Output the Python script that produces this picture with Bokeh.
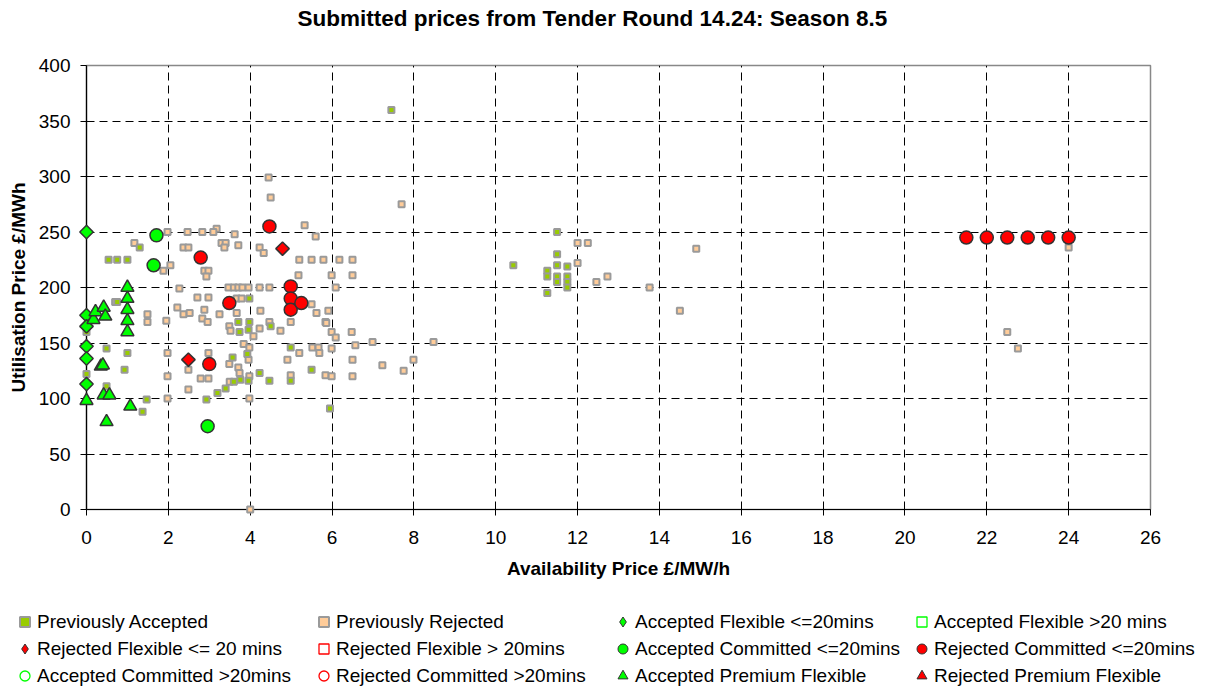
from bokeh.plotting import figure
from bokeh.models import Range1d, FixedTicker, Legend, LegendItem, Title
from bokeh.embed import file_html
from bokeh.resources import INLINE

FONT = "Liberation Sans"
TITLE = "Submitted prices from Tender Round 14.24: Season 8.5"
X_LABEL = "Availability Price £/MW/h"
Y_LABEL = "Utilisation Price £/MWh"
x_ticks = [0, 2, 4, 6, 8, 10, 12, 14, 16, 18, 20, 22, 24, 26]
y_ticks = [0, 50, 100, 150, 200, 250, 300, 350, 400]

# Previously Accepted
prev_acc_x = [7.45, 0.54, 0.75, 1.0, 1.3, 0.75, 0.0, 0.49, 1.0, 0.93, 0.0, 0.49, 1.47, 1.37,
              2.93, 3.98, 3.71, 3.98, 3.74, 3.96, 4.5, 3.93, 3.57, 3.76, 3.6, 3.96, 4.23, 4.47,
              3.4, 3.2, 4.99, 5.5, 4.99, 5.95, 10.43, 11.5, 11.5, 11.5, 11.75, 11.26, 11.26,
              11.5, 11.5, 11.75, 11.75, 11.75, 11.26]
prev_acc_y = [360, 225, 225, 225, 236, 187, 160, 145, 141, 126, 122, 111, 99, 88,
              99, 190, 169, 169, 160, 162, 165, 140, 137, 117, 115, 116, 123, 116,
              109, 105, 146, 126, 116, 91, 220, 250, 230, 220, 219, 215, 210,
              210, 205, 210, 205, 200, 195]

# Previously Rejected
prev_rej_x = [1.98, 2.47, 2.83, 1.17, 2.37, 2.49, 2.05, 1.88, 2.88, 2.98, 2.93, 2.27, 0.7, 2.71,
              2.98, 2.22, 2.37, 2.52, 2.88, 1.49, 1.49, 1.95, 2.83, 2.96, 1.98, 1.98, 2.49, 2.79,
              2.98, 2.49, 1.98, 2.98, 3.18, 3.1, 3.62, 3.3, 3.4, 3.37, 3.71, 4.23, 4.33, 5.33,
              5.6, 5.2, 5.5, 5.79, 5.18, 3.47, 3.6, 3.71, 3.81, 3.96, 4.23, 4.47, 3.67, 3.79,
              4.25, 3.25, 3.67, 3.49, 3.52, 4.23, 4.47, 4.74, 4.99, 5.62, 5.91, 5.84, 4.08, 3.84,
              3.98, 3.96, 3.49, 3.71, 3.74, 3.5, 3.98, 3.98, 5.2, 4.91, 5.52, 5.67, 5.69, 4.99,
              5.84, 7.7, 6.18, 6.5, 5.99, 6.5, 6.09, 5.5, 5.86, 5.99, 6.09, 6.48, 6.57, 6.99,
              8.48, 5.99, 6.5, 7.23, 7.75, 7.99, 5.99, 6.5, 4.45, 4.5, 4.0, 12.0, 12.25, 12.0,
              12.46, 12.73, 13.76, 14.9, 14.5, 24.0, 22.5, 22.76]
prev_rej_y = [250, 250, 250, 240, 236, 236, 220, 215, 215, 215, 210, 199, 187, 191,
              191, 182, 176, 177, 180, 176, 169, 170, 172, 169, 141, 120, 126, 118,
              118, 108, 100, 141, 253, 250, 248, 240, 240, 236, 238, 236, 231, 256,
              246, 225, 225, 225, 211, 200, 200, 200, 200, 200, 200, 200, 190, 190,
              179, 176, 177, 165, 161, 163, 169, 161, 169, 177, 179, 169, 156, 149,
              146, 135, 131, 128, 123, 115, 120, 100, 141, 135, 146, 146, 141, 121,
              121, 275, 225, 225, 211, 211, 200, 185, 168, 160, 155, 160, 148, 151,
              151, 145, 135, 130, 125, 135, 120, 120, 299, 281, 0, 240, 240, 222,
              205, 210, 200, 235, 179, 236, 160, 145]

# Accepted Flexible <=20mins
acc_flex_x = [0, 0, 0, 0, 0, 0]
acc_flex_y = [250, 175, 165, 147, 136, 113]

# Rejected Flexible <= 20 mins
rej_flex_x = [4.79, 2.49]
rej_flex_y = [235, 135]

# Accepted Committed <=20mins
acc_com_x = [1.71, 1.64, 2.96]
acc_com_y = [247, 220, 75]

# Rejected Committed <=20mins
rej_com_x = [2.79, 4.47, 3.49, 4.99, 4.99, 4.99, 5.25, 3.0, 21.5, 22.0, 22.5, 23.0, 23.5, 24.0]
rej_com_y = [227, 255, 186, 201, 190, 180, 186, 131, 245, 245, 245, 245, 245, 245]

# Accepted Premium Flexible
acc_prem_x = [0.17, 0.22, 0.42, 0.46, 1.0, 1.0, 1.0, 1.0, 1.0, 0.35, 0.4, 0.42, 0.56, 0.0, 1.07, 0.49]
acc_prem_y = [171, 178, 182, 174, 200, 190, 180, 170, 160, 129, 130, 103, 103, 98, 93, 79]

# legend keys only: a single missing (NaN) point, so nothing is plotted
key_x = [float("nan")]
key_y = [float("nan")]

GREEN = "#00FF00"
RED = "#FF0000"
OUT = "#333333"
SQ_GRAY = "#9A9A9A"
PA_FILL = "#99CC00"
PR_FILL = "#FFCC99"

TITLE_H = 45
MAIN_H = 536
LEG_H = 110


def blank(height):
    f = figure(width=1212, height=height, x_range=Range1d(0, 1), y_range=Range1d(0, 1),
               output_backend="svg", toolbar_location=None,
               x_axis_type=None, y_axis_type=None,
               min_border_left=0, min_border_right=0, min_border_top=0, min_border_bottom=0,
               outline_line_color=None, background_fill_color="white", border_fill_color="white")
    f.xgrid.visible = False
    f.ygrid.visible = False
    return f


# ---- title strip ----
pt = blank(TITLE_H)
pt.add_layout(Title(text=TITLE, text_font=FONT, text_font_size="22.5px",
                    text_font_style="bold", text_color="black", align="left",
                    offset=297, standoff=10, vertical_align="top"), "above")

# ---- main chart ----
p = figure(width=1212, height=MAIN_H, x_range=Range1d(0, 26), y_range=Range1d(0, 400),
           output_backend="svg", toolbar_location=None,
           min_border_left=86, min_border_right=62, min_border_top=65 - TITLE_H,
           min_border_bottom=TITLE_H + MAIN_H - 511,
           background_fill_color="white", border_fill_color="white")

p.xaxis.ticker = FixedTicker(ticks=x_ticks)
p.yaxis.ticker = FixedTicker(ticks=y_ticks)
p.xaxis.axis_label = X_LABEL
p.yaxis.axis_label = Y_LABEL
for ax in (p.xaxis[0], p.yaxis[0]):
    ax.axis_line_color = "black"
    ax.axis_line_width = 1.2
    ax.major_tick_line_color = "black"
    ax.major_tick_out = 6
    ax.major_tick_in = 0
    ax.minor_tick_line_color = None
    ax.major_label_text_font = FONT
    ax.major_label_text_font_size = "19px"
    ax.major_label_text_color = "black"
    ax.axis_label_text_font = FONT
    ax.axis_label_text_font_size = "19px"
    ax.axis_label_text_font_style = "bold"
    ax.axis_label_text_color = "black"
p.xaxis.major_label_standoff = 15
p.xaxis.axis_label_standoff = 11
p.yaxis.major_label_standoff = 10
p.yaxis.axis_label_standoff = 7

for g in (p.xgrid[0], p.ygrid[0]):
    g.grid_line_color = "black"
    g.grid_line_dash = "8 5"
    g.grid_line_width = 1
p.outline_line_color = "#888888"
p.outline_line_width = 1.5


def pts(xs, ys, marker, size, fill, line, lw, angle=0.0):
    r = p.scatter(x=xs, y=ys, marker=marker, size=size, fill_color=fill,
                  line_color=line, line_width=lw, angle=angle)
    r.level = "overlay"
    return r


pts(prev_rej_x, prev_rej_y, "square", 6, PR_FILL, SQ_GRAY, 2)
pts(prev_acc_x, prev_acc_y, "square", 6, PA_FILL, SQ_GRAY, 2)
pts(acc_com_x, acc_com_y, "circle", 13, GREEN, OUT, 1.5)
pts(rej_com_x, rej_com_y, "circle", 13, RED, OUT, 1.5)
pts(acc_flex_x, acc_flex_y, "square", 9.5, GREEN, OUT, 1.5, angle=0.7853981634)
pts(rej_flex_x, rej_flex_y, "square", 9.5, RED, OUT, 1.5, angle=0.7853981634)
pts(acc_prem_x, acc_prem_y, "triangle", 13, GREEN, OUT, 1.5)

# ---- legend strip ----
pl = blank(LEG_H)

legend_specs = [
    ("Previously Accepted", "square", PA_FILL, SQ_GRAY, 2),
    ("Previously Rejected", "square", PR_FILL, SQ_GRAY, 2),
    ("Accepted Flexible <=20mins", "diamond", GREEN, OUT, 1),
    ("Accepted Flexible >20 mins", "square", None, GREEN, 1.3),
    ("Rejected Flexible <= 20 mins", "diamond", RED, OUT, 1),
    ("Rejected Flexible > 20mins", "square", None, RED, 1.3),
    ("Accepted Committed <=20mins", "circle", GREEN, OUT, 1),
    ("Rejected Committed <=20mins", "circle", RED, OUT, 1),
    ("Accepted Committed >20mins", "circle", None, GREEN, 1.3),
    ("Rejected Committed >20mins", "circle", None, RED, 1.3),
    ("Accepted Premium Flexible", "triangle", GREEN, OUT, 1),
    ("Rejected Premium Flexible", "triangle", RED, OUT, 1),
]
items = []
for label, marker, fill, line, lw in legend_specs:
    r = pl.scatter(x=key_x, y=key_y, marker=marker, size=9, fill_color=fill,
                   line_color=line, line_width=lw)
    items.append(LegendItem(label=label, renderers=[r]))

legend = Legend(items=items, location=(12, 3), orientation="horizontal", ncols=4,
                glyph_width=25, glyph_height=25, label_standoff=0, label_width=272,
                label_height=22, spacing=2, padding=2, margin=0,
                label_text_font=FONT, label_text_font_size="19px",
                label_text_color="black",
                border_line_color=None, background_fill_alpha=0)
pl.add_layout(legend, "center")

open("out.html", "w").write(file_html([pt, p, pl], INLINE))
